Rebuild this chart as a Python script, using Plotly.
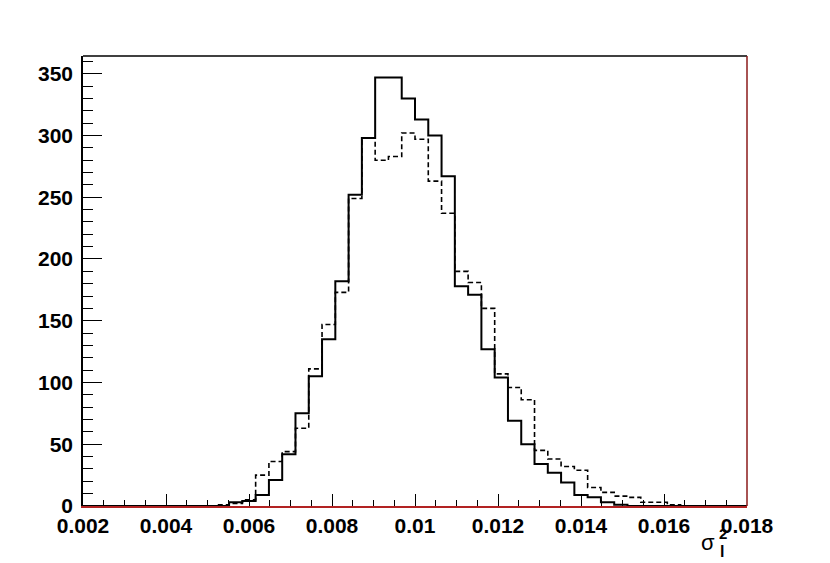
import numpy as np
import plotly.graph_objects as go

# Histogram binning (ROOT-style: 50 bins between 0.002 and 0.018)
bin_lo = 0.002
bin_hi = 0.018
n_bins = 50

# Solid histogram counts per bin
solid_counts = [0, 0, 0, 0, 0, 0, 0, 0, 0, 0,
                0, 3, 4, 9, 21, 42, 75, 105, 135, 182,
                252, 298, 347, 347, 330, 313, 300, 267, 178, 171,
                127, 104, 69, 50, 34, 27, 19, 9, 7, 3,
                1, 0, 0, 0, 0, 0, 0, 0, 0, 0]

# Dashed histogram counts per bin
dashed_counts = [0, 0, 0, 0, 0, 0, 0, 0, 0, 0,
                 1, 2, 5, 25, 36, 44, 63, 111, 147, 173,
                 249, 298, 280, 283, 302, 297, 263, 237, 190, 181,
                 160, 107, 96, 86, 45, 38, 32, 29, 15, 11,
                 8, 7, 3, 3, 1, 0, 0, 0, 0, 0]

x_tick_vals = [0.002, 0.004, 0.006, 0.008, 0.010, 0.012, 0.014, 0.016, 0.018]
x_tick_text = ["0.002", "0.004", "0.006", "0.008", "0.01", "0.012", "0.014", "0.016", "0.018"]
y_tick_vals = [0, 50, 100, 150, 200, 250, 300, 350]
y_tick_text = ["0", "50", "100", "150", "200", "250", "300", "350"]

edges = np.linspace(bin_lo, bin_hi, n_bins + 1)


def step_xy(counts):
    ys = list(counts) + [counts[-1]]
    return list(edges), ys


fig = go.Figure()

xd, yd = step_xy(dashed_counts)
fig.add_trace(go.Scatter(x=xd, y=yd, mode="lines", line_shape="hv",
                         line=dict(color="black", width=1.6, dash="5px,3px"),
                         hoverinfo="skip", showlegend=False))
xs, ys = step_xy(solid_counts)
fig.add_trace(go.Scatter(x=xs, y=ys, mode="lines", line_shape="hv",
                         line=dict(color="black", width=2),
                         hoverinfo="skip", showlegend=False))

ymax = max(max(solid_counts), max(dashed_counts)) * 1.05

label_font = dict(family="Liberation Sans, Arial, sans-serif", size=21, color="black", weight="bold")
title_family = "Liberation Sans, Arial, sans-serif"

fig.update_layout(
    width=830, height=563,
    margin=dict(l=75, r=91, t=48, b=65),
    paper_bgcolor="white", plot_bgcolor="white",
    showlegend=False,
    xaxis=dict(range=[bin_lo, bin_hi], tickvals=x_tick_vals, ticktext=x_tick_text,
               ticks="inside", ticklen=12, tickwidth=1.2, tickcolor="black",
               minor=dict(dtick=0.0005, tick0=0.002, ticks="inside", ticklen=6, tickwidth=1.2, tickcolor="black"),
               showgrid=False, zeroline=False, showline=True, linecolor="#b22222", linewidth=1.5,
               tickfont=label_font, ticklabelstandoff=0, automargin=False),
    yaxis=dict(range=[0, ymax], tickvals=y_tick_vals, ticktext=y_tick_text,
               ticks="inside", ticklen=19, tickwidth=1.2, tickcolor="black",
               minor=dict(dtick=10, tick0=0, ticks="inside", ticklen=10, tickwidth=1.2, tickcolor="black"),
               showgrid=False, zeroline=False, showline=True, linecolor="black", linewidth=1.5,
               tickfont=label_font, ticklabelstandoff=4, automargin=False),
    shapes=[
        dict(type="line", xref="paper", yref="paper", x0=0, x1=1, y0=1, y1=1,
             line=dict(color="black", width=1.5)),
        dict(type="line", xref="paper", yref="paper", x0=1, x1=1, y0=0, y1=1,
             line=dict(color="#8b1a1a", width=1.5)),
    ],
    annotations=[
        dict(text="σ", xref="paper", yref="paper", x=0.941, y=-0.08, showarrow=False,
             xanchor="center", yanchor="middle",
             font=dict(family=title_family, size=22, color="black")),
        dict(text="2", xref="paper", yref="paper", x=0.964, y=-0.062, showarrow=False,
             xanchor="center", yanchor="middle",
             font=dict(family=title_family, size=15, color="black", weight="bold")),
        dict(text="l", xref="paper", yref="paper", x=0.963, y=-0.102, showarrow=False,
             xanchor="center", yanchor="middle",
             font=dict(family=title_family, size=16, color="black", weight="bold")),
    ],
)

fig.write_html("out.html")
